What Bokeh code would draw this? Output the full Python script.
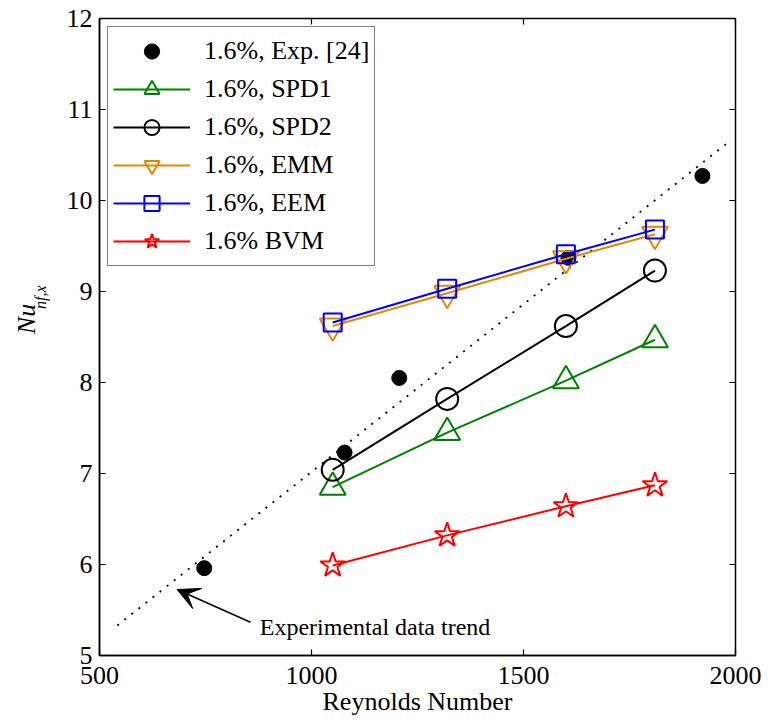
from math import pi

from bokeh.embed import file_html
from bokeh.layouts import row
from bokeh.models import (Arrow, FixedTicker, Label, Legend, LegendItem,
                          Range1d, VeeHead)
from bokeh.plotting import figure
from bokeh.resources import INLINE

# Experimental Nusselt numbers
re_exp = [747, 1078, 1207, 1606, 1922]
nu_exp = [5.96, 7.23, 8.05, 9.37, 10.27]

# Simulated Nusselt numbers for the different nanofluid models
re_sim = [1050, 1320, 1600, 1810]
nu_spd1 = [6.85, 7.45, 8.02, 8.47]
nu_spd2 = [7.04, 7.82, 8.62, 9.23]
nu_emm = [8.62, 8.98, 9.36, 9.63]
nu_eem = [8.66, 9.03, 9.41, 9.68]
nu_bvm = [5.99, 6.32, 6.64, 6.87]

# Trend of the experimental data (dotted guide line)
trend_re = [542, 1983]
trend_nu = [5.33, 10.64]

x_ticks = [500, 1000, 1500, 2000]
y_ticks = [5, 6, 7, 8, 9, 10, 11, 12]
x_min, x_max = 500, 2000
y_min, y_max = 5, 12

FONT = "Liberation Serif"
GREEN = "#008000"
ORANGE = "#e08a00"
BLUE = "#0000ff"
RED = "#ff0000"

FRAME_W, FRAME_H = 636, 637
TICK_PX = 6

p = figure(
    frame_width=FRAME_W, frame_height=FRAME_H,
    min_border_left=49, min_border_right=33,
    min_border_top=18, min_border_bottom=72,
    x_range=Range1d(x_min, x_max), y_range=Range1d(y_min, y_max),
    output_backend="svg", toolbar_location=None,
    background_fill_color="white", border_fill_color="white",
)
p.grid.visible = False
p.outline_line_color = "black"
p.outline_line_width = 1.5

for ax in (p.xaxis[0], p.yaxis[0]):
    ax.major_tick_in = TICK_PX
    ax.major_tick_out = 0
    ax.minor_tick_line_color = None
    ax.axis_line_width = 1.5
    ax.major_tick_line_width = 1.2
    ax.major_label_text_font = FONT
    ax.major_label_text_font_size = "26px"
    ax.major_label_text_color = "black"

p.xaxis.ticker = FixedTicker(ticks=x_ticks)
p.yaxis.ticker = FixedTicker(ticks=y_ticks)
p.xaxis.major_label_standoff = 11
p.yaxis.major_label_standoff = 7
p.xaxis.axis_label = "Reynolds Number"
p.xaxis.axis_label_text_font = FONT
p.xaxis.axis_label_text_font_size = "26px"
p.xaxis.axis_label_text_font_style = "normal"
p.xaxis.axis_label_text_color = "black"
p.xaxis.axis_label_standoff = 0

# Box ticks along the top and right edges of the frame
dx = TICK_PX * (x_max - x_min) / FRAME_W
dy = TICK_PX * (y_max - y_min) / FRAME_H
p.segment(x0=x_ticks, y0=[y_max] * len(x_ticks),
          x1=x_ticks, y1=[y_max - dy] * len(x_ticks),
          line_color="black", line_width=1.2)
p.segment(x0=[x_max] * len(y_ticks), y0=y_ticks,
          x1=[x_max - dx] * len(y_ticks), y1=y_ticks,
          line_color="black", line_width=1.2)

# Experimental trend line and its annotation
p.line(trend_re, trend_nu, line_color="black", line_width=1.8,
       line_dash="2 7")
p.add_layout(Arrow(end=VeeHead(size=22, fill_color="black",
                               line_color="black", line_width=1),
                   x_start=856, y_start=5.365, x_end=683, y_end=5.725,
                   line_color="black", line_width=1.5))
p.add_layout(Label(x=878, y=5.31, text="Experimental data trend",
                   text_font=FONT, text_font_size="24px",
                   text_color="black",
                   text_align="left", text_baseline="middle"))

items = []

r_exp = p.scatter(re_exp, nu_exp, marker="circle", size=15,
                  fill_color="black", line_color="black")
items.append(LegendItem(label="1.6%, Exp. [24]", renderers=[r_exp]))

series = [
    ("1.6%, SPD1", nu_spd1, GREEN, "triangle", 26),
    ("1.6%, SPD2", nu_spd2, "black", "circle", 22),
    ("1.6%, EMM", nu_emm, ORANGE, "inverted_triangle", 26),
    ("1.6%, EEM", nu_eem, BLUE, "square", 18),
    ("1.6% BVM", nu_bvm, RED, "star", 26),
]
for label, vals, color, marker, size in series:
    rl = p.line(re_sim, vals, line_color=color, line_width=2)
    rs = p.scatter(re_sim, vals, marker=marker, size=size,
                   fill_color=None, line_color=color, line_width=2)
    items.append(LegendItem(label=label, renderers=[rl, rs]))

legend = Legend(items=items, location="top_left")
legend.label_text_font = FONT
legend.label_text_font_size = "26px"
legend.label_text_color = "black"
legend.glyph_width = 77
legend.glyph_height = 38
legend.label_height = 30
legend.label_standoff = 14
legend.spacing = 0
legend.padding = 5
legend.margin = 8
legend.border_line_color = "black"
legend.border_line_width = 1.5
legend.background_fill_color = "white"
legend.background_fill_alpha = 1.0
p.add_layout(legend, "center")

# Narrow panel holding the rotated y-axis title Nu_{nf,x}
ylab = figure(
    width=50, height=FRAME_H + 18 + 72,
    x_range=Range1d(0, 50), y_range=Range1d(0, FRAME_H + 18 + 72),
    min_border=0, x_axis_location=None, y_axis_location=None,
    output_backend="svg", toolbar_location=None,
    background_fill_color="white", border_fill_color="white",
)
ylab.grid.visible = False
ylab.outline_line_color = None
ylab.add_layout(Label(x=26, y=384, text="Nu", angle=pi / 2,
                      text_font=FONT, text_font_size="26px",
                      text_font_style="italic", text_color="black",
                      text_align="center", text_baseline="middle"))
ylab.add_layout(Label(x=40, y=409, text="nf,x", angle=pi / 2,
                      text_font=FONT, text_font_size="16px",
                      text_font_style="italic", text_color="black",
                      text_align="center", text_baseline="middle"))

layout = row(ylab, p, spacing=0)
open("out.html", "w").write(file_html(layout, INLINE))
